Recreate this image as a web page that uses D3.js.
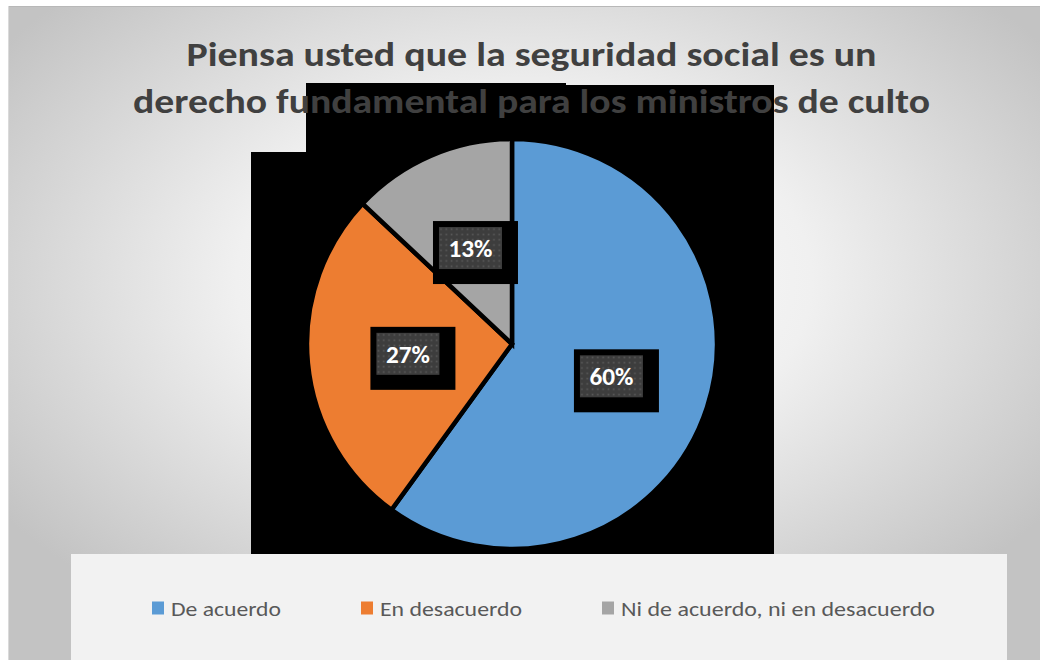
<!DOCTYPE html>
<html><head><meta charset="utf-8">
<script src="https://cdn.jsdelivr.net/npm/d3@7"></script>
<style>body{margin:0;background:#fff;}svg{display:block;}</style>
</head><body>
<svg id="chart" width="1040" height="660"></svg>
<script>
const categories = ["De acuerdo", "En desacuerdo", "Ni de acuerdo, ni en desacuerdo"];
const values = [60, 27, 13];
const labels = ["60%", "27%", "13%"];
const colors = ["#5b9bd5", "#ed7d31", "#a5a5a5"];
const titleLines = ["Piensa usted que la seguridad social es un", "derecho fundamental para los ministros de culto"];

const svg = d3.select("#chart");
const defs = svg.append("defs");
const rg = defs.append("radialGradient").attr("id","bg").attr("cx","50%").attr("cy","42%").attr("r","62%");
rg.append("stop").attr("offset","0%").attr("stop-color","#ffffff");
rg.append("stop").attr("offset","45%").attr("stop-color","#f0f0f0");
rg.append("stop").attr("offset","100%").attr("stop-color","#c3c3c3");
const pat = defs.append("pattern").attr("id","dots").attr("width",5.3).attr("height",5.3).attr("patternUnits","userSpaceOnUse");
pat.append("rect").attr("width",5.3).attr("height",5.3).attr("fill","#3d3d3d");
pat.append("rect").attr("x",1.5).attr("y",1.5).attr("width",1.6).attr("height",1.6).attr("fill","#5a5a5a");

// frame
svg.append("rect").attr("x",8).attr("y",6).attr("width",1032).attr("height",654).attr("fill","url(#bg)");
svg.append("line").attr("x1",8).attr("x2",1040).attr("y1",6.5).attr("y2",6.5).attr("stroke","#b8b8b8");
svg.append("line").attr("x1",8.5).attr("x2",8.5).attr("y1",6).attr("y2",660).attr("stroke","#dadada");

// black backdrop (artifact of original rendering)
const blk = svg.append("g").attr("fill","#000");
blk.append("rect").attr("x",306).attr("y",83).attr("width",260).attr("height",471);
blk.append("rect").attr("x",565).attr("y",85).attr("width",209).attr("height",469);
blk.append("rect").attr("x",251).attr("y",152).attr("width",56).attr("height",402);

// title
const title = svg.append("g").attr("font-family","Carlito, Lato, 'Open Sans', sans-serif")
  .attr("font-weight","bold").attr("font-size",35).attr("fill","#404040").attr("text-anchor","middle");
const tl = [{y:66, len:690},{y:113, len:797}];
titleLines.forEach((t,i)=>{
  title.append("text").attr("x",531.5).attr("y",tl[i].y).attr("textLength",tl[i].len)
    .attr("lengthAdjust","spacingAndGlyphs").text(t);
});

// pie
const cx = 512, cy = 344, r = 205;
const pie = d3.pie().sort(null).value(d=>d)(values);
const arc = d3.arc().innerRadius(0).outerRadius(r);
const labelArc = d3.arc().innerRadius(r*0.51).outerRadius(r*0.51);
const g = svg.append("g").attr("transform",`translate(${cx},${cy})`);
g.selectAll("path").data(pie).join("path").attr("d",arc)
  .attr("fill",(d,i)=>colors[i]).attr("stroke","#000").attr("stroke-width",4.5).attr("stroke-linejoin","miter");

const lab = g.selectAll("g.lab").data(pie).join("g").attr("class","lab")
  .attr("transform",d=>{const c=labelArc.centroid(d);return `translate(${c[0]},${c[1]})`;});
lab.append("rect").attr("x",-37.5).attr("y",-27).attr("width",85).attr("height",63).attr("fill","#000");
lab.append("rect").attr("x",-31.5).attr("y",-21).attr("width",63).attr("height",42).attr("fill","url(#dots)");
lab.append("text").attr("text-anchor","middle").attr("y",9)
  .attr("font-family","Carlito, Lato, 'Open Sans', sans-serif").attr("font-weight","bold")
  .attr("font-size",25).attr("fill","#fff").attr("textLength",44).attr("lengthAdjust","spacingAndGlyphs")
  .text((d,i)=>labels[i]);

// legend
svg.append("rect").attr("x",71).attr("y",554).attr("width",936).attr("height",106).attr("fill","#f2f2f2");
const lx = [152, 361, 602];
const tw = [110, 142, 314];
const leg = svg.append("g").selectAll("g").data(categories).join("g")
  .attr("transform",(d,i)=>`translate(${lx[i]},608)`);
leg.append("rect").attr("x",0).attr("y",-6.5).attr("width",12).attr("height",13).attr("fill",(d,i)=>colors[i]);
leg.append("text").attr("x",19).attr("y",7.5).attr("font-family","Carlito, Lato, 'Open Sans', sans-serif")
  .attr("font-size",20.5).attr("fill","#595959").attr("textLength",(d,i)=>tw[i]).attr("lengthAdjust","spacingAndGlyphs").text(d=>d);
</script>
</body></html>
